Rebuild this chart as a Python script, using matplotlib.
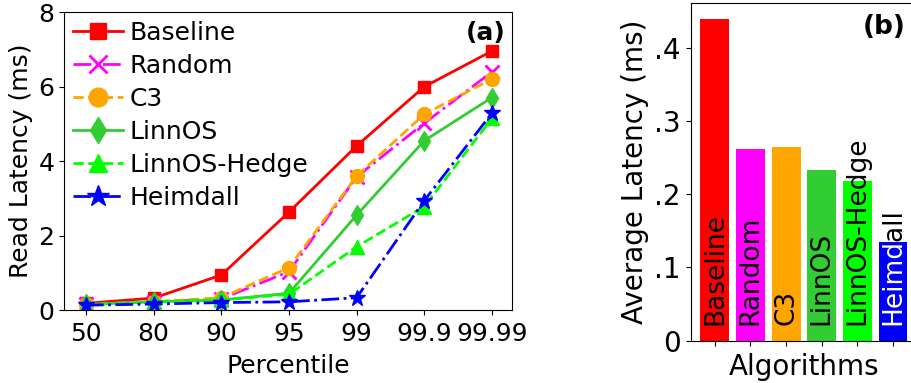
import matplotlib
matplotlib.use('Agg')
import matplotlib.pyplot as plt
from matplotlib.transforms import TransformedBbox
import numpy as np

plt.rcParams['font.size'] = 18

percentiles = ['50', '80', '90', '95', '99', '99.9', '99.99']

baseline = [0.18, 0.32, 0.94, 2.63, 4.41, 6.00, 6.96]
random_ = [0.15, 0.22, 0.30, 1.03, 3.58, 5.02, 6.40]
c3 = [0.15, 0.22, 0.33, 1.14, 3.60, 5.26, 6.21]
linnos = [0.15, 0.22, 0.27, 0.45, 2.55, 4.55, 5.71]
linnos_hedge = [0.14, 0.22, 0.27, 0.42, 1.70, 2.78, 5.15]
heimdall = [0.13, 0.16, 0.20, 0.22, 0.33, 2.94, 5.29]

algos = ['Baseline', 'Random', 'C3', 'LinnOS', 'LinnOS-Hedge', 'Heimdall']
avg_lat = [0.439, 0.2615, 0.264, 0.233, 0.218, 0.135]

colors = ['red', 'magenta', 'orange', 'limegreen', 'lime', 'blue']
styles = ['-', '-.', '--', '-', '--', '-.']
markers = ['s', 'x', 'o', 'd', '^', '*']
sizes = [9, 10, 10, 10, 10, 12]

fig = plt.figure(figsize=(9.12, 3.83), dpi=100)

# (a) tail latency per percentile
ax = fig.add_axes([0.0705, 0.1906, 0.4912, 0.7773])
x = np.arange(len(percentiles))
series = [baseline, random_, c3, linnos, linnos_hedge, heimdall]
for ys, name, c, ls, m, ms in zip(series, algos, colors, styles, markers, sizes):
    ax.plot(x, ys, ls=ls, color=c, marker=m, markersize=ms, lw=2,
            mew=2 if m == 'x' else 1, label=name)
ax.set_xticks(x)
ax.set_xticklabels(percentiles)
ax.tick_params(axis='x', pad=5)
ax.set_xlim(-0.32, 6.3)
ax.set_ylim(0, 8)
ax.set_yticks([0, 2, 4, 6, 8])
ax.set_xlabel('Percentile', labelpad=6)
ax.set_ylabel('Read Latency (ms)')
ax.legend(loc='upper left', frameon=False, labelspacing=0.36,
          handlelength=2.0, handletextpad=0.25, markerscale=1.35,
          borderaxespad=0.1, borderpad=0.25)
ax.text(0.985, 0.93, '(a)', transform=ax.transAxes, ha='right', va='center',
        fontweight='bold')

# (b) average latency per algorithm
bx = fig.add_axes([0.7573, 0.1104, 0.2484, 0.8816])
xb = np.arange(len(algos))
bars = bx.bar(xb, avg_lat, width=0.81, color=colors)
for i, name in enumerate(algos):
    bx.text(xb[i], 0.022, name, rotation=90, ha='center', va='bottom',
            fontsize=19, color='black')
# white part of the last label, kept inside its bar
t = bx.text(xb[-1], 0.022, algos[-1], rotation=90, ha='center', va='bottom',
            fontsize=19, color='white')
t.set_clip_box(TransformedBbox(bars[-1].get_bbox(), bx.transData))
t.set_clip_on(True)
bx.set_xticks(xb)
bx.set_xticklabels([])
bx.set_xlim(-0.68, 5.68)
bx.set_ylim(0, 0.4607)
bx.set_yticks([0, 0.1, 0.2, 0.3, 0.4])
bx.set_yticklabels(['0', '.1', '.2', '.3', '.4'], fontsize=20)
bx.set_xlabel('Algorithms', fontsize=20, labelpad=2)
bx.set_ylabel('Average Latency (ms)', fontsize=20)
bx.text(0.95, 0.93, '(b)', transform=bx.transAxes, ha='right', va='center',
        fontweight='bold', fontsize=19)

plt.savefig('out.png', dpi=100)
